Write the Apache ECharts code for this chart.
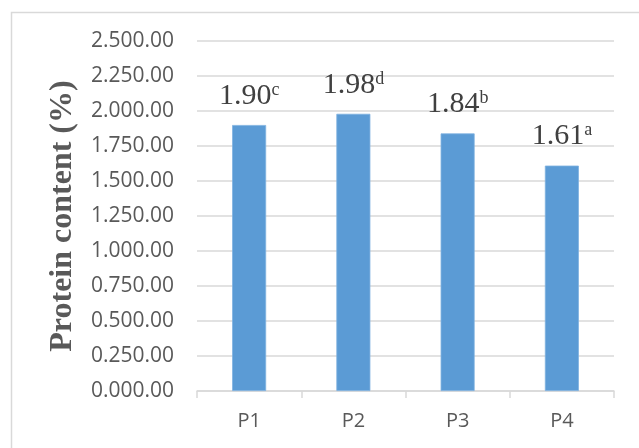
<!DOCTYPE html>
<html>
<head>
<meta charset="utf-8">
<style>
  html, body { margin: 0; padding: 0; background: #ffffff; }
  #chart { width: 639px; height: 448px; }
</style>
<script src="https://cdn.jsdelivr.net/npm/echarts@6/dist/echarts.min.js"></script>
</head>
<body>
<div id="chart"></div>
<script>
// Samples and their protein content (%)
const categories = ['P1', 'P2', 'P3', 'P4'];
const proteinValues = [1.90, 1.98, 1.84, 1.61];
const significanceLetters = ['c', 'd', 'b', 'a'];

// Y axis tick labels, from 0 to 2.5 in steps of 0.25
const yTickLabels = ['0.000.00', '0.250.00', '0.500.00', '0.750.00', '1.000.00',
                     '1.250.00', '1.500.00', '1.750.00', '2.000.00', '2.250.00', '2.500.00'];
const yStep = 0.25;

const chart = echarts.init(document.getElementById('chart'), null, { renderer: 'canvas' });

const gridColor = '#d9d9d9';

chart.setOption({
  animation: false,
  backgroundColor: '#ffffff',
  grid: { left: 197, right: 25, top: 41, bottom: 57, containLabel: false },
  graphic: [
    {
      type: 'rect',
      shape: { x: 11.5, y: 12.5, width: 700, height: 500 },
      style: { fill: 'none', stroke: gridColor, lineWidth: 1.5 },
      silent: true
    },
    {
      type: 'text',
      x: 63,
      y: 216,
      rotation: Math.PI / 2,
      style: {
        text: 'Protein content (%)',
        font: 'bold 32px "Liberation Serif", "Times New Roman", serif',
        fill: '#595959',
        align: 'center',
        verticalAlign: 'middle'
      }
    }
  ],
  xAxis: {
    type: 'category',
    data: categories,
    axisLine: { show: true, lineStyle: { color: gridColor, width: 1.5 } },
    axisTick: { show: true, length: 7, lineStyle: { color: gridColor, width: 1.5 } },
    axisLabel: {
      color: '#595959',
      fontFamily: '"Open Sans", "Liberation Sans", sans-serif',
      fontSize: 20,
      margin: 20
    }
  },
  yAxis: {
    type: 'value',
    min: 0,
    max: 2.5,
    interval: yStep,
    axisLine: { show: false },
    axisTick: { show: false },
    splitLine: { lineStyle: { color: gridColor, width: 1.5 } },
    axisLabel: {
      color: '#595959',
      fontFamily: '"Open Sans", "Liberation Sans", sans-serif',
      fontSize: 21,
      margin: 23,
      formatter: function (v) {
        return yTickLabels[Math.round(v / yStep)];
      }
    }
  },
  series: [
    {
      type: 'bar',
      data: proteinValues,
      barWidth: 34,
      itemStyle: { color: '#5b9bd5', borderColor: '#7fb1df', borderWidth: 0.8 },
      label: {
        show: true,
        position: 'top',
        distance: 14,
        formatter: function (p) {
          return '{v|' + p.value.toFixed(2) + '}{s|' + significanceLetters[p.dataIndex] + '}';
        },
        rich: {
          v: {
            fontFamily: '"Liberation Serif", "Times New Roman", serif',
            fontSize: 30,
            color: '#404040',
            lineHeight: 30,
            verticalAlign: 'bottom'
          },
          s: {
            fontFamily: '"Liberation Serif", "Times New Roman", serif',
            fontSize: 18,
            color: '#404040',
            lineHeight: 30,
            verticalAlign: 'top'
          }
        }
      }
    }
  ]
});
</script>
</body>
</html>
